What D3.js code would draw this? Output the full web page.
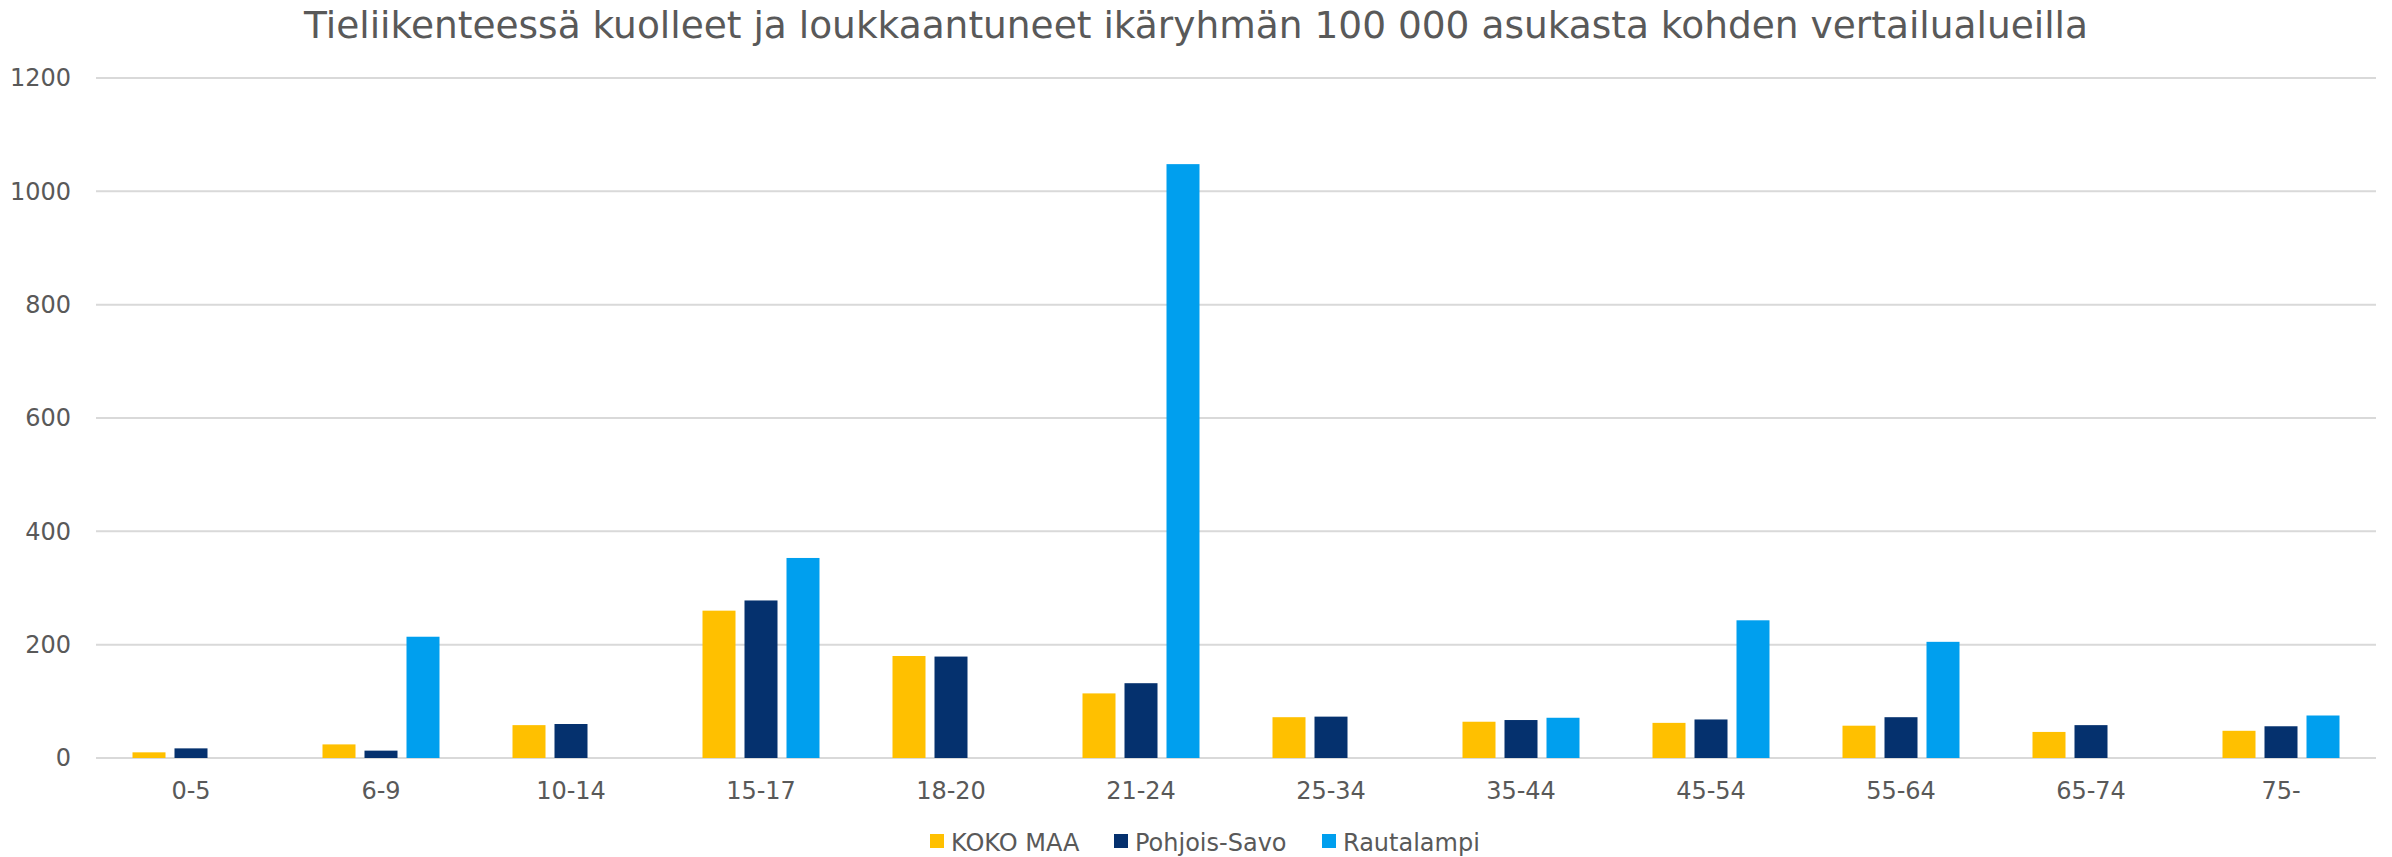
<!DOCTYPE html>
<html>
<head>
<meta charset="utf-8">
<script src="https://cdn.jsdelivr.net/npm/d3@7"></script>
<style>
  body { margin: 0; background: #fff; }
  svg text { font-family: "DejaVu Sans", Verdana, sans-serif; fill: #595959; }
</style>
</head>
<body>
<script>
// data
var CATEGORIES = ["0-5","6-9","10-14","15-17","18-20","21-24","25-34","35-44","45-54","55-64","65-74","75-"];
var SERIES = ["KOKO MAA","Pohjois-Savo","Rautalampi"];
var KOKO_MAA     = [10, 24, 58, 260, 180, 114, 72, 64, 62, 57, 46, 48];
var POHJOIS_SAVO = [17, 13, 60, 278, 179, 132, 73, 67, 68, 72, 58, 56];
var RAUTALAMPI   = [0, 214, 0, 353, 0, 1048, 0, 71, 243, 205, 0, 75];
var Y_TICKS = [0, 200, 400, 600, 800, 1000, 1200];
var COLORS = ["#FFC000", "#05316E", "#009FEE"];
var TITLE = "Tieliikenteessä kuolleet ja loukkaantuneet ikäryhmän 100 000 asukasta kohden vertailualueilla";

var w = 2392, h = 857;
var LEFT = 96, RIGHT = 2376, TOP = 78, BOTTOM = 758;

SVG = d3.select('body').append('svg').attr('width', w).attr('height', h);

var x = d3.scaleBand().domain(CATEGORIES).range([LEFT, RIGHT]).padding(0);
// inner group: 3 slots of 42px, bars 33px wide
var xInner = d3.scaleBand().domain(SERIES).range([-63, 63]).paddingInner(9/42).paddingOuter(4.5/42);
var y = d3.scaleLinear().domain([0, 1200]).range([BOTTOM, TOP]);

// title
SVG.append("text")
   .attr("x", w / 2).attr("y", 38)
   .attr("text-anchor", "middle")
   .style("font-size", "37.5px")
   .text(TITLE);

// gridlines
SVG.append("g").selectAll("line").data(Y_TICKS).enter().append("line")
   .attr("x1", LEFT).attr("x2", RIGHT)
   .attr("y1", function(d){ return y(d); }).attr("y2", function(d){ return y(d); })
   .attr("stroke", "#D9D9D9").attr("stroke-width", 2);

// y axis
var yAxis = SVG.append("g").attr("transform", "translate(" + (LEFT - 25) + ",0)")
   .call(d3.axisLeft(y).tickValues(Y_TICKS).tickFormat(d3.format("d")).tickSize(0).tickPadding(0));
yAxis.select(".domain").remove();
yAxis.selectAll("text").style("font-size", "24px").style("font-family", "DejaVu Sans").style("fill", "#595959");

// x axis
var xAxis = SVG.append("g").attr("transform", "translate(0," + BOTTOM + ")")
   .call(d3.axisBottom(x).tickSize(0).tickPadding(24));
xAxis.select(".domain").remove();
xAxis.selectAll("text").style("font-size", "24px").style("font-family", "DejaVu Sans").style("fill", "#595959");

// bars
var VALUES = [KOKO_MAA, POHJOIS_SAVO, RAUTALAMPI];
var rows = CATEGORIES.map(function(c, i){
  return { cat: c, vals: SERIES.map(function(s, j){ return { s: s, v: VALUES[j][i], c: COLORS[j] }; }) };
});
var groups = SVG.append("g").selectAll("g").data(rows).enter().append("g")
   .attr("transform", function(d){ return "translate(" + (x(d.cat) + x.bandwidth() / 2) + ",0)"; });
groups.selectAll("rect").data(function(d){ return d.vals.filter(function(v){ return v.v > 0; }); })
   .enter().append("rect")
   .attr("x", function(d){ return xInner(d.s); })
   .attr("width", xInner.bandwidth())
   .attr("y", function(d){ return y(d.v); })
   .attr("height", function(d){ return y(0) - y(d.v); })
   .attr("fill", function(d){ return d.c; });

// legend
var LEG_X = [930, 1114, 1322];
var legend = SVG.append("g").selectAll("g").data(SERIES).enter().append("g")
   .attr("transform", function(d, i){ return "translate(" + LEG_X[i] + ",834)"; });
legend.append("rect").attr("width", 14).attr("height", 14)
   .attr("fill", function(d, i){ return COLORS[i]; });
legend.append("text").attr("x", 21).attr("y", 17)
   .style("font-size", "24px").text(function(d){ return d; });
</script>
</body>
</html>
